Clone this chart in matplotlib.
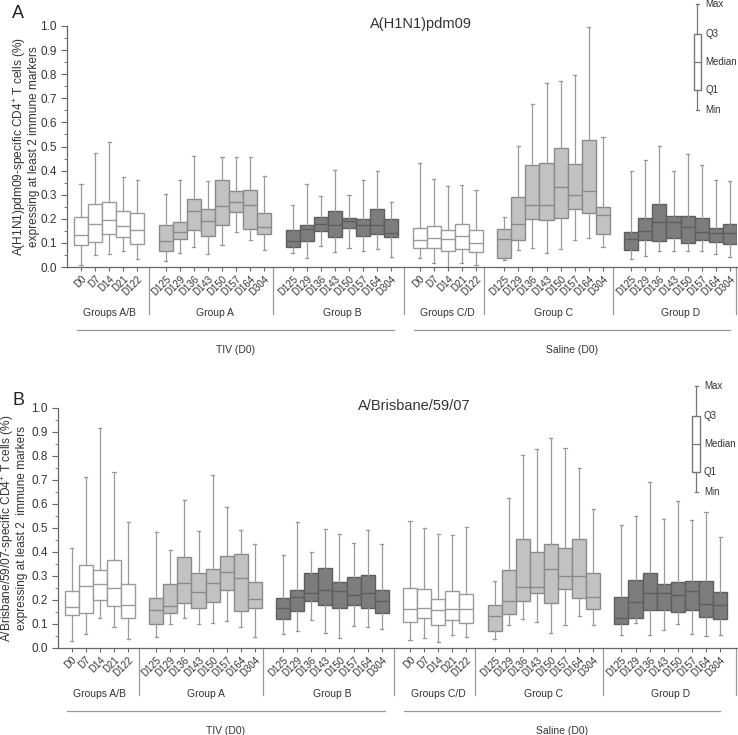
import matplotlib
matplotlib.use("Agg")
import matplotlib.pyplot as plt
import matplotlib.transforms as mtransforms

plt.rcParams['font.family'] = ['Liberation Sans', 'DejaVu Sans']
plt.rcParams['mathtext.fontset'] = 'custom'
plt.rcParams['mathtext.rm'] = 'Liberation Sans'

# groups and their days
groups = ['Groups A/B', 'Group A', 'Group B', 'Groups C/D', 'Group C', 'Group D']
days_pre = ['D0', 'D7', 'D14', 'D21', 'D122']
days_post = ['D125', 'D129', 'D136', 'D143', 'D150', 'D157', 'D164', 'D304']
group_days = [days_pre, days_post, days_post, days_pre, days_post, days_post]
group_start = [0, 6, 15, 24, 30, 39]
separators = [4.8, 13.6, 22.9, 28.6, 37.7]
treatments = ['TIV (D0)', 'Saline (D0)']

# (min, Q1, median, Q3, max) per box, panel A
h1n1 = [
    # Groups A/B
    (0.010, 0.093, 0.134, 0.208, 0.346), (0.051, 0.105, 0.177, 0.263, 0.471),
    (0.055, 0.139, 0.193, 0.269, 0.517), (0.066, 0.125, 0.170, 0.233, 0.374),
    (0.032, 0.096, 0.155, 0.222, 0.360),
    # Group A
    (0.025, 0.066, 0.109, 0.173, 0.302), (0.060, 0.115, 0.147, 0.188, 0.363),
    (0.084, 0.154, 0.234, 0.283, 0.460), (0.055, 0.129, 0.191, 0.241, 0.355),
    (0.090, 0.175, 0.255, 0.359, 0.456), (0.145, 0.230, 0.269, 0.317, 0.456),
    (0.112, 0.158, 0.259, 0.321, 0.458), (0.072, 0.135, 0.164, 0.222, 0.377),
    # Group B
    (0.060, 0.084, 0.109, 0.155, 0.259), (0.037, 0.107, 0.158, 0.176, 0.346),
    (0.086, 0.148, 0.180, 0.208, 0.294), (0.064, 0.125, 0.176, 0.231, 0.402),
    (0.080, 0.163, 0.190, 0.205, 0.298), (0.068, 0.130, 0.176, 0.200, 0.360),
    (0.076, 0.135, 0.173, 0.241, 0.397), (0.043, 0.125, 0.141, 0.198, 0.268),
    # Groups C/D
    (0.037, 0.079, 0.111, 0.162, 0.432), (0.017, 0.079, 0.122, 0.172, 0.367),
    (0.000, 0.066, 0.115, 0.152, 0.335), (0.015, 0.075, 0.127, 0.180, 0.339),
    (0.007, 0.064, 0.098, 0.155, 0.321),
    # Group C
    (0.028, 0.039, 0.116, 0.159, 0.206), (0.069, 0.114, 0.177, 0.292, 0.503),
    (0.080, 0.199, 0.256, 0.425, 0.675), (0.058, 0.193, 0.256, 0.431, 0.763),
    (0.076, 0.204, 0.334, 0.493, 0.771), (0.114, 0.241, 0.298, 0.427, 0.795),
    (0.120, 0.222, 0.317, 0.525, 0.997), (0.083, 0.137, 0.215, 0.251, 0.539),
    # Group D
    (0.032, 0.069, 0.115, 0.147, 0.400), (0.046, 0.114, 0.148, 0.205, 0.442),
    (0.065, 0.108, 0.186, 0.262, 0.501), (0.065, 0.122, 0.186, 0.211, 0.397),
    (0.065, 0.100, 0.168, 0.211, 0.468), (0.065, 0.114, 0.144, 0.205, 0.424),
    (0.053, 0.102, 0.143, 0.162, 0.361), (0.042, 0.096, 0.140, 0.180, 0.356),
]

# panel B
brisbane = [
    # Groups A/B
    (0.029, 0.137, 0.170, 0.236, 0.416), (0.057, 0.147, 0.258, 0.346, 0.714),
    (0.125, 0.200, 0.266, 0.325, 0.918), (0.087, 0.175, 0.249, 0.367, 0.734),
    (0.039, 0.127, 0.179, 0.266, 0.524),
    # Group A
    (0.046, 0.101, 0.159, 0.208, 0.482), (0.100, 0.145, 0.175, 0.266, 0.407),
    (0.125, 0.187, 0.271, 0.378, 0.615), (0.100, 0.165, 0.233, 0.312, 0.486),
    (0.104, 0.191, 0.271, 0.328, 0.720), (0.114, 0.240, 0.316, 0.384, 0.587),
    (0.087, 0.155, 0.291, 0.393, 0.492), (0.046, 0.165, 0.204, 0.274, 0.434),
    # Group B
    (0.058, 0.120, 0.166, 0.208, 0.388), (0.069, 0.154, 0.212, 0.241, 0.524),
    (0.118, 0.195, 0.230, 0.314, 0.399), (0.062, 0.179, 0.241, 0.334, 0.494),
    (0.042, 0.165, 0.238, 0.274, 0.475), (0.091, 0.179, 0.222, 0.295, 0.439),
    (0.087, 0.165, 0.231, 0.305, 0.492), (0.081, 0.147, 0.196, 0.241, 0.434),
    # Groups C/D
    (0.032, 0.108, 0.163, 0.249, 0.529), (0.042, 0.126, 0.168, 0.245, 0.499),
    (0.026, 0.096, 0.157, 0.204, 0.475), (0.053, 0.116, 0.163, 0.238, 0.471),
    (0.044, 0.104, 0.163, 0.226, 0.503),
    # Group C
    (0.039, 0.069, 0.134, 0.180, 0.280), (0.094, 0.141, 0.197, 0.323, 0.623),
    (0.122, 0.197, 0.256, 0.454, 0.803), (0.108, 0.229, 0.253, 0.399, 0.831),
    (0.062, 0.187, 0.328, 0.434, 0.877), (0.094, 0.245, 0.299, 0.416, 0.835),
    (0.132, 0.208, 0.298, 0.453, 0.752), (0.097, 0.162, 0.212, 0.314, 0.579),
    # Group D
    (0.054, 0.100, 0.125, 0.211, 0.512), (0.104, 0.125, 0.191, 0.284, 0.550),
    (0.053, 0.157, 0.229, 0.312, 0.693), (0.076, 0.157, 0.229, 0.267, 0.539),
    (0.101, 0.148, 0.220, 0.274, 0.612), (0.058, 0.157, 0.238, 0.280, 0.532),
    (0.050, 0.130, 0.183, 0.278, 0.565), (0.054, 0.120, 0.180, 0.233, 0.463),
]

legend_key = (0.65, 0.735, 0.85, 0.965, 1.09)
legend_names = ['Min', 'Q1', 'Median', 'Q3', 'Max']

fills = ['#ffffff', '#c2c2c2', '#7d7d7d', '#ffffff', '#c2c2c2', '#7d7d7d']
edges = ['#9a9a9a', '#8a8a8a', '#5e5e5e', '#9a9a9a', '#8a8a8a', '#5e5e5e']


def draw_panel(ax, data, title, ylabel, xlim, legend_x, title_x, label_x):
    positions, labels, stats, facecols, edgecols = [], [], [], [], []
    k = 0
    for g, days in enumerate(group_days):
        for j, d in enumerate(days):
            mn, q1, med, q3, mx = data[k]
            stats.append(dict(whislo=mn, q1=q1, med=med, q3=q3, whishi=mx, fliers=[]))
            positions.append(group_start[g] + j)
            labels.append(d)
            facecols.append(fills[g])
            edgecols.append(edges[g])
            k += 1

    res = ax.bxp(stats, positions=positions, widths=1.0, patch_artist=True,
                 showfliers=False, capwidths=0.22, manage_ticks=False)
    for i, box in enumerate(res['boxes']):
        box.set_facecolor(facecols[i])
        box.set_edgecolor(edgecols[i])
        box.set_linewidth(1.0)
        res['medians'][i].set_color(edgecols[i])
        res['medians'][i].set_linewidth(1.0)
    for w in res['whiskers'] + res['caps']:
        w.set_color('#9a9a9a')
        w.set_linewidth(0.9)

    # legend key drawn as a boxplot
    mn, q1, med, q3, mx = legend_key
    lg = ax.bxp([dict(whislo=mn, q1=q1, med=med, q3=q3, whishi=mx, fliers=[])],
                positions=[legend_x], widths=0.55, patch_artist=True,
                showfliers=False, capwidths=0.22, manage_ticks=False)
    for a in lg['boxes']:
        a.set_facecolor('white')
        a.set_edgecolor('#777777')
    for a in lg['whiskers'] + lg['caps'] + lg['medians']:
        a.set_color('#777777')
        a.set_linewidth(0.9)
    for key in lg:
        for a in lg[key]:
            a.set_clip_on(False)
    for v, name in zip(legend_key, legend_names):
        ax.text(legend_x + 0.55, v, name, fontsize=7, va='center', ha='left', color='#333333')

    ax.set_xlim(*xlim)
    ax.set_ylim(0, 1.0)
    ax.set_yticks([i / 10 for i in range(11)])
    ax.set_yticks([i / 20 for i in range(21)], minor=True)
    ax.set_yticklabels([f'{i / 10:.1f}' for i in range(11)], fontsize=8.5, color='#333333')
    ax.set_xticks(positions)
    ax.set_xticklabels(labels, rotation=45, ha='right', rotation_mode='anchor',
                       fontsize=7, color='#333333')
    ax.tick_params(axis='x', length=3, color='#666666', pad=2)
    ax.tick_params(axis='y', which='major', length=4, color='#666666')
    ax.tick_params(axis='y', which='minor', length=2, color='#666666')
    for s in ['top', 'right']:
        ax.spines[s].set_visible(False)
    for s in ['left', 'bottom']:
        ax.spines[s].set_color('#666666')
        ax.spines[s].set_linewidth(0.9)

    ax.set_ylabel(ylabel, fontsize=8.6, color='#333333', linespacing=1.0)
    ax.yaxis.set_label_coords(label_x, 0.5)
    ax.text(title_x, 1.008, title, fontsize=10.5, ha='center', va='center', color='#333333')

    # group separators, group names, treatment lines
    trans = mtransforms.blended_transform_factory(ax.transData, ax.transAxes)
    h = ax.get_position().height * 735
    drop = 47 / h
    for sx in separators + [xlim[1] - 0.05]:
        ax.plot([sx, sx], [0, -drop], color='#999999', lw=0.9, transform=trans, clip_on=False)
    for g, days in enumerate(group_days):
        cx = group_start[g] + (len(days) - 1) / 2
        ax.text(cx, -46 / h, groups[g], transform=trans, ha='center', va='center',
                fontsize=7.5, color='#333333')
    spans = [(-0.3, 22.2), (23.6, 46.0)]
    for (x0, x1), name in zip(spans, treatments):
        ax.plot([x0, x1], [-63 / h, -63 / h], color='#999999', lw=0.9, transform=trans, clip_on=False)
        ax.text((x0 + x1) / 2, -83 / h, name, transform=trans, ha='center', va='center',
                fontsize=7.5, color='#333333')


fig = plt.figure(figsize=(7.38, 7.35), dpi=100)
axA = fig.add_axes([67 / 738, (735 - 267) / 735, 670 / 738, 241 / 735])
axB = fig.add_axes([58 / 738, (735 - 648) / 735, 679 / 738, 240 / 735])

draw_panel(axA, h1n1, 'A(H1N1)pdm09',
           'A(H1N1)pdm09-specific CD4$^{+}$ T cells (%)\nexpressing at least 2 immune markers',
           (-0.99, 46.5), 43.7, 24.1, -0.041)
draw_panel(axB, brisbane, 'A/Brisbane/59/07',
           'A/Brisbane/59/07-specific CD4$^{+}$ T cells (%)\nexpressing at least 2  immune markers',
           (-0.97, 47.2), 44.3, 24.3, -0.044)

fig.text(12 / 738, 1 - 14 / 735, 'A', fontsize=13, ha='left', va='center', color='#222222')
fig.text(12 / 738, 1 - 400 / 735, 'B', fontsize=13, ha='left', va='center', color='#222222')

fig.savefig('out.png', dpi=100)
